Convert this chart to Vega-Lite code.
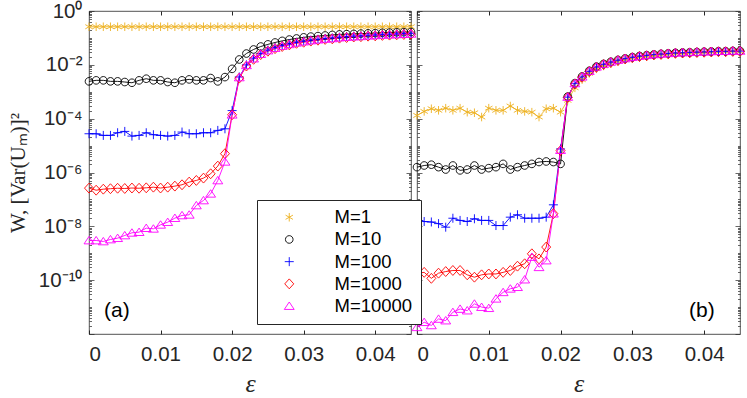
{
"$schema": "https://vega.github.io/schema/vega-lite/v6.json",
"background": "white",
"padding": {"left": 6, "top": 0, "right": 7, "bottom": 4},
"autosize": {"type": "pad"},
"bounds": "flush",
"config": {"view": {"stroke": "#262626", "strokeWidth": 0.8}, "font": "Liberation Sans"},
"spacing": 6,
"resolve": {"scale": {"color": "shared", "shape": "shared"}, "legend": {"color": "shared", "shape": "shared"}},
"data": {"values": [
{"p":"a","M":"M=1","x":0,"y":0.26},{"p":"a","M":"M=1","x":0.001,"y":0.26},{"p":"a","M":"M=1","x":0.002,"y":0.26},{"p":"a","M":"M=1","x":0.003,"y":0.26},{"p":"a","M":"M=1","x":0.004,"y":0.26},{"p":"a","M":"M=1","x":0.005,"y":0.26},{"p":"a","M":"M=1","x":0.006,"y":0.26},{"p":"a","M":"M=1","x":0.007,"y":0.26},{"p":"a","M":"M=1","x":0.008,"y":0.26},{"p":"a","M":"M=1","x":0.009,"y":0.26},
{"p":"a","M":"M=1","x":0.01,"y":0.26},{"p":"a","M":"M=1","x":0.011,"y":0.26},{"p":"a","M":"M=1","x":0.012,"y":0.26},{"p":"a","M":"M=1","x":0.013,"y":0.26},{"p":"a","M":"M=1","x":0.014,"y":0.26},{"p":"a","M":"M=1","x":0.015,"y":0.26},{"p":"a","M":"M=1","x":0.016,"y":0.26},{"p":"a","M":"M=1","x":0.017,"y":0.26},{"p":"a","M":"M=1","x":0.018,"y":0.26},{"p":"a","M":"M=1","x":0.019,"y":0.26},
{"p":"a","M":"M=1","x":0.02,"y":0.26},{"p":"a","M":"M=1","x":0.021,"y":0.26},{"p":"a","M":"M=1","x":0.022,"y":0.26},{"p":"a","M":"M=1","x":0.023,"y":0.26},{"p":"a","M":"M=1","x":0.024,"y":0.26},{"p":"a","M":"M=1","x":0.025,"y":0.26},{"p":"a","M":"M=1","x":0.026,"y":0.26},{"p":"a","M":"M=1","x":0.027,"y":0.26},{"p":"a","M":"M=1","x":0.028,"y":0.26},{"p":"a","M":"M=1","x":0.029,"y":0.26},
{"p":"a","M":"M=1","x":0.03,"y":0.26},{"p":"a","M":"M=1","x":0.031,"y":0.26},{"p":"a","M":"M=1","x":0.032,"y":0.26},{"p":"a","M":"M=1","x":0.033,"y":0.26},{"p":"a","M":"M=1","x":0.034,"y":0.26},{"p":"a","M":"M=1","x":0.035,"y":0.26},{"p":"a","M":"M=1","x":0.036,"y":0.26},{"p":"a","M":"M=1","x":0.037,"y":0.26},{"p":"a","M":"M=1","x":0.038,"y":0.26},{"p":"a","M":"M=1","x":0.039,"y":0.26},
{"p":"a","M":"M=1","x":0.04,"y":0.26},{"p":"a","M":"M=1","x":0.041,"y":0.26},{"p":"a","M":"M=1","x":0.042,"y":0.26},{"p":"a","M":"M=1","x":0.043,"y":0.26},{"p":"a","M":"M=1","x":0.044,"y":0.26},{"p":"a","M":"M=1","x":0.045,"y":0.26},

{"p":"a","M":"M=10","x":0,"y":2.43e-3},{"p":"a","M":"M=10","x":0.001,"y":2.65e-3},{"p":"a","M":"M=10","x":0.002,"y":2.65e-3},{"p":"a","M":"M=10","x":0.003,"y":2.43e-3},{"p":"a","M":"M=10","x":0.004,"y":2.43e-3},{"p":"a","M":"M=10","x":0.005,"y":2.3e-3},{"p":"a","M":"M=10","x":0.006,"y":2.16e-3},{"p":"a","M":"M=10","x":0.007,"y":2.65e-3},{"p":"a","M":"M=10","x":0.008,"y":3.05e-3},{"p":"a","M":"M=10","x":0.009,"y":2.65e-3},
{"p":"a","M":"M=10","x":0.01,"y":2.65e-3},{"p":"a","M":"M=10","x":0.011,"y":2.3e-3},{"p":"a","M":"M=10","x":0.012,"y":2.16e-3},{"p":"a","M":"M=10","x":0.013,"y":2.65e-3},{"p":"a","M":"M=10","x":0.014,"y":2.88e-3},{"p":"a","M":"M=10","x":0.015,"y":2.65e-3},{"p":"a","M":"M=10","x":0.016,"y":2.65e-3},{"p":"a","M":"M=10","x":0.017,"y":3.23e-3},{"p":"a","M":"M=10","x":0.018,"y":2.43e-3},{"p":"a","M":"M=10","x":0.019,"y":3.5e-3},
{"p":"a","M":"M=10","x":0.02,"y":7.1e-3},{"p":"a","M":"M=10","x":0.021,"y":1.58e-2},{"p":"a","M":"M=10","x":0.022,"y":2.63e-2},{"p":"a","M":"M=10","x":0.023,"y":3.72e-2},{"p":"a","M":"M=10","x":0.024,"y":4.79e-2},{"p":"a","M":"M=10","x":0.025,"y":5.75e-2},{"p":"a","M":"M=10","x":0.026,"y":6.76e-2},{"p":"a","M":"M=10","x":0.027,"y":7.76e-2},{"p":"a","M":"M=10","x":0.028,"y":8.71e-2},{"p":"a","M":"M=10","x":0.029,"y":9.55e-2},
{"p":"a","M":"M=10","x":0.03,"y":0.105},{"p":"a","M":"M=10","x":0.031,"y":0.112},{"p":"a","M":"M=10","x":0.032,"y":0.117},{"p":"a","M":"M=10","x":0.033,"y":0.123},{"p":"a","M":"M=10","x":0.034,"y":0.129},{"p":"a","M":"M=10","x":0.035,"y":0.135},{"p":"a","M":"M=10","x":0.036,"y":0.138},{"p":"a","M":"M=10","x":0.037,"y":0.141},{"p":"a","M":"M=10","x":0.038,"y":0.145},{"p":"a","M":"M=10","x":0.039,"y":0.148},
{"p":"a","M":"M=10","x":0.04,"y":0.151},{"p":"a","M":"M=10","x":0.041,"y":0.155},{"p":"a","M":"M=10","x":0.042,"y":0.158},{"p":"a","M":"M=10","x":0.043,"y":0.162},{"p":"a","M":"M=10","x":0.044,"y":0.164},{"p":"a","M":"M=10","x":0.045,"y":0.166},

{"p":"a","M":"M=100","x":0,"y":2.75e-5},{"p":"a","M":"M=100","x":0.001,"y":2.75e-5},{"p":"a","M":"M=100","x":0.002,"y":2.39e-5},{"p":"a","M":"M=100","x":0.003,"y":2.39e-5},{"p":"a","M":"M=100","x":0.004,"y":3.0e-5},{"p":"a","M":"M=100","x":0.005,"y":3.36e-5},{"p":"a","M":"M=100","x":0.006,"y":2.25e-5},{"p":"a","M":"M=100","x":0.007,"y":2.39e-5},{"p":"a","M":"M=100","x":0.008,"y":3.0e-5},{"p":"a","M":"M=100","x":0.009,"y":2.53e-5},
{"p":"a","M":"M=100","x":0.01,"y":2.39e-5},{"p":"a","M":"M=100","x":0.011,"y":2.25e-5},{"p":"a","M":"M=100","x":0.012,"y":2.39e-5},{"p":"a","M":"M=100","x":0.013,"y":3.18e-5},{"p":"a","M":"M=100","x":0.014,"y":2.75e-5},{"p":"a","M":"M=100","x":0.015,"y":2.75e-5},{"p":"a","M":"M=100","x":0.016,"y":3.0e-5},{"p":"a","M":"M=100","x":0.017,"y":3.0e-5},{"p":"a","M":"M=100","x":0.018,"y":3.66e-5},{"p":"a","M":"M=100","x":0.019,"y":4.2e-5},
{"p":"a","M":"M=100","x":0.02,"y":2.0e-4},{"p":"a","M":"M=100","x":0.021,"y":3.55e-3},{"p":"a","M":"M=100","x":0.022,"y":1.0e-2},{"p":"a","M":"M=100","x":0.023,"y":1.78e-2},{"p":"a","M":"M=100","x":0.024,"y":2.63e-2},{"p":"a","M":"M=100","x":0.025,"y":3.55e-2},{"p":"a","M":"M=100","x":0.026,"y":4.37e-2},{"p":"a","M":"M=100","x":0.027,"y":5.25e-2},{"p":"a","M":"M=100","x":0.028,"y":6.03e-2},{"p":"a","M":"M=100","x":0.029,"y":6.92e-2},
{"p":"a","M":"M=100","x":0.03,"y":7.59e-2},{"p":"a","M":"M=100","x":0.031,"y":8.32e-2},{"p":"a","M":"M=100","x":0.032,"y":8.91e-2},{"p":"a","M":"M=100","x":0.033,"y":9.55e-2},{"p":"a","M":"M=100","x":0.034,"y":0.1},{"p":"a","M":"M=100","x":0.035,"y":0.107},{"p":"a","M":"M=100","x":0.036,"y":0.112},{"p":"a","M":"M=100","x":0.037,"y":0.117},{"p":"a","M":"M=100","x":0.038,"y":0.12},{"p":"a","M":"M=100","x":0.039,"y":0.126},
{"p":"a","M":"M=100","x":0.04,"y":0.129},{"p":"a","M":"M=100","x":0.041,"y":0.135},{"p":"a","M":"M=100","x":0.042,"y":0.138},{"p":"a","M":"M=100","x":0.043,"y":0.141},{"p":"a","M":"M=100","x":0.044,"y":0.145},{"p":"a","M":"M=100","x":0.045,"y":0.148},

{"p":"a","M":"M=1000","x":0,"y":2.63e-7},{"p":"a","M":"M=1000","x":0.001,"y":2.2e-7},{"p":"a","M":"M=1000","x":0.002,"y":2.4e-7},{"p":"a","M":"M=1000","x":0.003,"y":2.5e-7},{"p":"a","M":"M=1000","x":0.004,"y":2.6e-7},{"p":"a","M":"M=1000","x":0.005,"y":2.55e-7},{"p":"a","M":"M=1000","x":0.006,"y":2.65e-7},{"p":"a","M":"M=1000","x":0.007,"y":2.6e-7},{"p":"a","M":"M=1000","x":0.008,"y":2.7e-7},{"p":"a","M":"M=1000","x":0.009,"y":2.85e-7},
{"p":"a","M":"M=1000","x":0.01,"y":2.65e-7},{"p":"a","M":"M=1000","x":0.011,"y":2.85e-7},{"p":"a","M":"M=1000","x":0.012,"y":3.12e-7},{"p":"a","M":"M=1000","x":0.013,"y":3.5e-7},{"p":"a","M":"M=1000","x":0.014,"y":4.4e-7},{"p":"a","M":"M=1000","x":0.015,"y":5.07e-7},{"p":"a","M":"M=1000","x":0.016,"y":6.19e-7},{"p":"a","M":"M=1000","x":0.017,"y":8.97e-7},{"p":"a","M":"M=1000","x":0.018,"y":1.73e-6},{"p":"a","M":"M=1000","x":0.019,"y":5.0e-6},
{"p":"a","M":"M=1000","x":0.02,"y":1.4e-4},{"p":"a","M":"M=1000","x":0.021,"y":3.2e-3},{"p":"a","M":"M=1000","x":0.022,"y":9.0e-3},{"p":"a","M":"M=1000","x":0.023,"y":1.6e-2},{"p":"a","M":"M=1000","x":0.024,"y":2.4e-2},{"p":"a","M":"M=1000","x":0.025,"y":3.2e-2},{"p":"a","M":"M=1000","x":0.026,"y":4.0e-2},{"p":"a","M":"M=1000","x":0.027,"y":4.8e-2},{"p":"a","M":"M=1000","x":0.028,"y":5.5e-2},{"p":"a","M":"M=1000","x":0.029,"y":6.3e-2},
{"p":"a","M":"M=1000","x":0.03,"y":6.9e-2},{"p":"a","M":"M=1000","x":0.031,"y":7.6e-2},{"p":"a","M":"M=1000","x":0.032,"y":8.2e-2},{"p":"a","M":"M=1000","x":0.033,"y":8.8e-2},{"p":"a","M":"M=1000","x":0.034,"y":9.2e-2},{"p":"a","M":"M=1000","x":0.035,"y":9.8e-2},{"p":"a","M":"M=1000","x":0.036,"y":0.103},{"p":"a","M":"M=1000","x":0.037,"y":0.108},{"p":"a","M":"M=1000","x":0.038,"y":0.111},{"p":"a","M":"M=1000","x":0.039,"y":0.116},
{"p":"a","M":"M=1000","x":0.04,"y":0.119},{"p":"a","M":"M=1000","x":0.041,"y":0.124},{"p":"a","M":"M=1000","x":0.042,"y":0.127},{"p":"a","M":"M=1000","x":0.043,"y":0.13},{"p":"a","M":"M=1000","x":0.044,"y":0.134},{"p":"a","M":"M=1000","x":0.045,"y":0.137},

{"p":"a","M":"M=10000","x":0,"y":2.98e-9},{"p":"a","M":"M=10000","x":0.001,"y":2.98e-9},{"p":"a","M":"M=10000","x":0.002,"y":2.74e-9},{"p":"a","M":"M=10000","x":0.003,"y":3.25e-9},{"p":"a","M":"M=10000","x":0.004,"y":3.64e-9},{"p":"a","M":"M=10000","x":0.005,"y":4.58e-9},{"p":"a","M":"M=10000","x":0.006,"y":5.75e-9},{"p":"a","M":"M=10000","x":0.007,"y":6.09e-9},{"p":"a","M":"M=10000","x":0.008,"y":8.57e-9},{"p":"a","M":"M=10000","x":0.009,"y":8.09e-9},
{"p":"a","M":"M=10000","x":0.01,"y":1.14e-8},{"p":"a","M":"M=10000","x":0.011,"y":1.43e-8},{"p":"a","M":"M=10000","x":0.012,"y":2.02e-8},{"p":"a","M":"M=10000","x":0.013,"y":2.54e-8},{"p":"a","M":"M=10000","x":0.014,"y":2.68e-8},{"p":"a","M":"M=10000","x":0.015,"y":5.97e-8},{"p":"a","M":"M=10000","x":0.016,"y":9.16e-8},{"p":"a","M":"M=10000","x":0.017,"y":1.62e-7},{"p":"a","M":"M=10000","x":0.018,"y":5.07e-7},{"p":"a","M":"M=10000","x":0.019,"y":2.5e-6},
{"p":"a","M":"M=10000","x":0.02,"y":1.4e-4},{"p":"a","M":"M=10000","x":0.021,"y":3.4e-3},{"p":"a","M":"M=10000","x":0.022,"y":9.6e-3},{"p":"a","M":"M=10000","x":0.023,"y":1.7e-2},{"p":"a","M":"M=10000","x":0.024,"y":2.5e-2},{"p":"a","M":"M=10000","x":0.025,"y":3.4e-2},{"p":"a","M":"M=10000","x":0.026,"y":4.2e-2},{"p":"a","M":"M=10000","x":0.027,"y":5.0e-2},{"p":"a","M":"M=10000","x":0.028,"y":5.8e-2},{"p":"a","M":"M=10000","x":0.029,"y":6.6e-2},
{"p":"a","M":"M=10000","x":0.03,"y":7.3e-2},{"p":"a","M":"M=10000","x":0.031,"y":8.0e-2},{"p":"a","M":"M=10000","x":0.032,"y":8.6e-2},{"p":"a","M":"M=10000","x":0.033,"y":9.2e-2},{"p":"a","M":"M=10000","x":0.034,"y":9.6e-2},{"p":"a","M":"M=10000","x":0.035,"y":0.103},{"p":"a","M":"M=10000","x":0.036,"y":0.108},{"p":"a","M":"M=10000","x":0.037,"y":0.112},{"p":"a","M":"M=10000","x":0.038,"y":0.115},{"p":"a","M":"M=10000","x":0.039,"y":0.121},
{"p":"a","M":"M=10000","x":0.04,"y":0.124},{"p":"a","M":"M=10000","x":0.041,"y":0.13},{"p":"a","M":"M=10000","x":0.042,"y":0.132},{"p":"a","M":"M=10000","x":0.043,"y":0.135},{"p":"a","M":"M=10000","x":0.044,"y":0.139},{"p":"a","M":"M=10000","x":0.045,"y":0.142},

{"p":"b","M":"M=1","x":0,"y":1.32e-4},{"p":"b","M":"M=1","x":0.001,"y":1.86e-4},{"p":"b","M":"M=1","x":0.002,"y":2.34e-4},{"p":"b","M":"M=1","x":0.003,"y":2.04e-4},{"p":"b","M":"M=1","x":0.004,"y":2.45e-4},{"p":"b","M":"M=1","x":0.005,"y":2.04e-4},{"p":"b","M":"M=1","x":0.006,"y":2.45e-4},{"p":"b","M":"M=1","x":0.007,"y":1.74e-4},{"p":"b","M":"M=1","x":0.008,"y":1.66e-4},{"p":"b","M":"M=1","x":0.009,"y":1.15e-4},
{"p":"b","M":"M=1","x":0.01,"y":2.45e-4},{"p":"b","M":"M=1","x":0.011,"y":2.04e-4},{"p":"b","M":"M=1","x":0.012,"y":2.04e-4},{"p":"b","M":"M=1","x":0.013,"y":2.95e-4},{"p":"b","M":"M=1","x":0.014,"y":2.04e-4},{"p":"b","M":"M=1","x":0.015,"y":1.86e-4},{"p":"b","M":"M=1","x":0.016,"y":1.74e-4},{"p":"b","M":"M=1","x":0.017,"y":1.15e-4},{"p":"b","M":"M=1","x":0.018,"y":2.34e-4},{"p":"b","M":"M=1","x":0.019,"y":2.45e-4},
{"p":"b","M":"M=1","x":0.02,"y":1.74e-4},{"p":"b","M":"M=1","x":0.021,"y":4.8e-4},{"p":"b","M":"M=1","x":0.022,"y":1.4e-3},{"p":"b","M":"M=1","x":0.023,"y":2.8e-3},{"p":"b","M":"M=1","x":0.024,"y":4.8e-3},{"p":"b","M":"M=1","x":0.025,"y":7.1e-3},{"p":"b","M":"M=1","x":0.026,"y":9.1e-3},{"p":"b","M":"M=1","x":0.027,"y":1.12e-2},{"p":"b","M":"M=1","x":0.028,"y":1.35e-2},{"p":"b","M":"M=1","x":0.029,"y":1.55e-2},
{"p":"b","M":"M=1","x":0.03,"y":1.74e-2},{"p":"b","M":"M=1","x":0.031,"y":1.9e-2},{"p":"b","M":"M=1","x":0.032,"y":2.04e-2},{"p":"b","M":"M=1","x":0.033,"y":2.19e-2},{"p":"b","M":"M=1","x":0.034,"y":2.34e-2},{"p":"b","M":"M=1","x":0.035,"y":2.45e-2},{"p":"b","M":"M=1","x":0.036,"y":2.57e-2},{"p":"b","M":"M=1","x":0.037,"y":2.63e-2},{"p":"b","M":"M=1","x":0.038,"y":2.75e-2},{"p":"b","M":"M=1","x":0.039,"y":2.82e-2},
{"p":"b","M":"M=1","x":0.04,"y":2.88e-2},{"p":"b","M":"M=1","x":0.041,"y":2.95e-2},{"p":"b","M":"M=1","x":0.042,"y":3.02e-2},{"p":"b","M":"M=1","x":0.043,"y":3.09e-2},{"p":"b","M":"M=1","x":0.044,"y":3.16e-2},{"p":"b","M":"M=1","x":0.045,"y":3.16e-2},

{"p":"b","M":"M=10","x":0,"y":1.58e-6},{"p":"b","M":"M=10","x":0.001,"y":1.82e-6},{"p":"b","M":"M=10","x":0.002,"y":1.95e-6},{"p":"b","M":"M=10","x":0.003,"y":1.58e-6},{"p":"b","M":"M=10","x":0.004,"y":1.29e-6},{"p":"b","M":"M=10","x":0.005,"y":1.82e-6},{"p":"b","M":"M=10","x":0.006,"y":1.2e-6},{"p":"b","M":"M=10","x":0.007,"y":1.29e-6},{"p":"b","M":"M=10","x":0.008,"y":1.82e-6},{"p":"b","M":"M=10","x":0.009,"y":1.29e-6},
{"p":"b","M":"M=10","x":0.01,"y":1.45e-6},{"p":"b","M":"M=10","x":0.011,"y":1.58e-6},{"p":"b","M":"M=10","x":0.012,"y":2.09e-6},{"p":"b","M":"M=10","x":0.013,"y":1.29e-6},{"p":"b","M":"M=10","x":0.014,"y":1.58e-6},{"p":"b","M":"M=10","x":0.015,"y":1.82e-6},{"p":"b","M":"M=10","x":0.016,"y":2.09e-6},{"p":"b","M":"M=10","x":0.017,"y":2.45e-6},{"p":"b","M":"M=10","x":0.018,"y":2.57e-6},{"p":"b","M":"M=10","x":0.019,"y":2.45e-6},
{"p":"b","M":"M=10","x":0.02,"y":2.09e-6},{"p":"b","M":"M=10","x":0.021,"y":6.6e-4},{"p":"b","M":"M=10","x":0.022,"y":2.1e-3},{"p":"b","M":"M=10","x":0.023,"y":3.7e-3},{"p":"b","M":"M=10","x":0.024,"y":6.0e-3},{"p":"b","M":"M=10","x":0.025,"y":8.6e-3},{"p":"b","M":"M=10","x":0.026,"y":1.08e-2},{"p":"b","M":"M=10","x":0.027,"y":1.3e-2},{"p":"b","M":"M=10","x":0.028,"y":1.52e-2},{"p":"b","M":"M=10","x":0.029,"y":1.74e-2},
{"p":"b","M":"M=10","x":0.03,"y":1.94e-2},{"p":"b","M":"M=10","x":0.031,"y":2.13e-2},{"p":"b","M":"M=10","x":0.032,"y":2.28e-2},{"p":"b","M":"M=10","x":0.033,"y":2.44e-2},{"p":"b","M":"M=10","x":0.034,"y":2.55e-2},{"p":"b","M":"M=10","x":0.035,"y":2.67e-2},{"p":"b","M":"M=10","x":0.036,"y":2.79e-2},{"p":"b","M":"M=10","x":0.037,"y":2.86e-2},{"p":"b","M":"M=10","x":0.038,"y":2.92e-2},{"p":"b","M":"M=10","x":0.039,"y":2.99e-2},
{"p":"b","M":"M=10","x":0.04,"y":3.06e-2},{"p":"b","M":"M=10","x":0.041,"y":3.13e-2},{"p":"b","M":"M=10","x":0.042,"y":3.2e-2},{"p":"b","M":"M=10","x":0.043,"y":3.2e-2},{"p":"b","M":"M=10","x":0.044,"y":3.28e-2},{"p":"b","M":"M=10","x":0.045,"y":3.28e-2},

{"p":"b","M":"M=100","x":0,"y":2.19e-8},{"p":"b","M":"M=100","x":0.001,"y":1.51e-8},{"p":"b","M":"M=100","x":0.002,"y":1.45e-8},{"p":"b","M":"M=100","x":0.003,"y":1.26e-8},{"p":"b","M":"M=100","x":0.004,"y":9.3e-9},{"p":"b","M":"M=100","x":0.005,"y":2.0e-8},{"p":"b","M":"M=100","x":0.006,"y":1.66e-8},{"p":"b","M":"M=100","x":0.007,"y":1.51e-8},{"p":"b","M":"M=100","x":0.008,"y":1.91e-8},{"p":"b","M":"M=100","x":0.009,"y":1.66e-8},
{"p":"b","M":"M=100","x":0.01,"y":1.66e-8},{"p":"b","M":"M=100","x":0.011,"y":1.07e-8},{"p":"b","M":"M=100","x":0.012,"y":1.07e-8},{"p":"b","M":"M=100","x":0.013,"y":2.19e-8},{"p":"b","M":"M=100","x":0.014,"y":2.69e-8},{"p":"b","M":"M=100","x":0.015,"y":2.0e-8},{"p":"b","M":"M=100","x":0.016,"y":2.0e-8},{"p":"b","M":"M=100","x":0.017,"y":2.0e-8},{"p":"b","M":"M=100","x":0.018,"y":2.19e-8},{"p":"b","M":"M=100","x":0.019,"y":6.3e-8},
{"p":"b","M":"M=100","x":0.02,"y":7.5e-6},{"p":"b","M":"M=100","x":0.021,"y":6.3e-4},{"p":"b","M":"M=100","x":0.022,"y":2.0e-3},{"p":"b","M":"M=100","x":0.023,"y":3.55e-3},{"p":"b","M":"M=100","x":0.024,"y":5.75e-3},{"p":"b","M":"M=100","x":0.025,"y":8.3e-3},{"p":"b","M":"M=100","x":0.026,"y":1.05e-2},{"p":"b","M":"M=100","x":0.027,"y":1.26e-2},{"p":"b","M":"M=100","x":0.028,"y":1.48e-2},{"p":"b","M":"M=100","x":0.029,"y":1.7e-2},
{"p":"b","M":"M=100","x":0.03,"y":1.9e-2},{"p":"b","M":"M=100","x":0.031,"y":2.09e-2},{"p":"b","M":"M=100","x":0.032,"y":2.24e-2},{"p":"b","M":"M=100","x":0.033,"y":2.4e-2},{"p":"b","M":"M=100","x":0.034,"y":2.51e-2},{"p":"b","M":"M=100","x":0.035,"y":2.63e-2},{"p":"b","M":"M=100","x":0.036,"y":2.75e-2},{"p":"b","M":"M=100","x":0.037,"y":2.82e-2},{"p":"b","M":"M=100","x":0.038,"y":2.88e-2},{"p":"b","M":"M=100","x":0.039,"y":2.95e-2},
{"p":"b","M":"M=100","x":0.04,"y":3.02e-2},{"p":"b","M":"M=100","x":0.041,"y":3.09e-2},{"p":"b","M":"M=100","x":0.042,"y":3.16e-2},{"p":"b","M":"M=100","x":0.043,"y":3.16e-2},{"p":"b","M":"M=100","x":0.044,"y":3.24e-2},{"p":"b","M":"M=100","x":0.045,"y":3.24e-2},

{"p":"b","M":"M=1000","x":0,"y":1.82e-10},{"p":"b","M":"M=1000","x":0.001,"y":1.95e-10},{"p":"b","M":"M=1000","x":0.002,"y":1.17e-10},{"p":"b","M":"M=1000","x":0.003,"y":1.82e-10},{"p":"b","M":"M=1000","x":0.004,"y":2.09e-10},{"p":"b","M":"M=1000","x":0.005,"y":2.29e-10},{"p":"b","M":"M=1000","x":0.006,"y":2.29e-10},{"p":"b","M":"M=1000","x":0.007,"y":1.58e-10},{"p":"b","M":"M=1000","x":0.008,"y":1.29e-10},{"p":"b","M":"M=1000","x":0.009,"y":1.58e-10},
{"p":"b","M":"M=1000","x":0.01,"y":1.7e-10},{"p":"b","M":"M=1000","x":0.011,"y":1.7e-10},{"p":"b","M":"M=1000","x":0.012,"y":1.95e-10},{"p":"b","M":"M=1000","x":0.013,"y":2.29e-10},{"p":"b","M":"M=1000","x":0.014,"y":3.31e-10},{"p":"b","M":"M=1000","x":0.015,"y":4.07e-10},{"p":"b","M":"M=1000","x":0.016,"y":9.55e-10},{"p":"b","M":"M=1000","x":0.017,"y":6.17e-10},{"p":"b","M":"M=1000","x":0.018,"y":1.7e-9},{"p":"b","M":"M=1000","x":0.019,"y":2.95e-8},
{"p":"b","M":"M=1000","x":0.02,"y":6.5e-6},{"p":"b","M":"M=1000","x":0.021,"y":6.1e-4},{"p":"b","M":"M=1000","x":0.022,"y":1.94e-3},{"p":"b","M":"M=1000","x":0.023,"y":3.44e-3},{"p":"b","M":"M=1000","x":0.024,"y":5.58e-3},{"p":"b","M":"M=1000","x":0.025,"y":8.05e-3},{"p":"b","M":"M=1000","x":0.026,"y":1.02e-2},{"p":"b","M":"M=1000","x":0.027,"y":1.22e-2},{"p":"b","M":"M=1000","x":0.028,"y":1.44e-2},{"p":"b","M":"M=1000","x":0.029,"y":1.65e-2},
{"p":"b","M":"M=1000","x":0.03,"y":1.84e-2},{"p":"b","M":"M=1000","x":0.031,"y":2.03e-2},{"p":"b","M":"M=1000","x":0.032,"y":2.17e-2},{"p":"b","M":"M=1000","x":0.033,"y":2.33e-2},{"p":"b","M":"M=1000","x":0.034,"y":2.43e-2},{"p":"b","M":"M=1000","x":0.035,"y":2.55e-2},{"p":"b","M":"M=1000","x":0.036,"y":2.67e-2},{"p":"b","M":"M=1000","x":0.037,"y":2.74e-2},{"p":"b","M":"M=1000","x":0.038,"y":2.79e-2},{"p":"b","M":"M=1000","x":0.039,"y":2.86e-2},
{"p":"b","M":"M=1000","x":0.04,"y":2.93e-2},{"p":"b","M":"M=1000","x":0.041,"y":3.0e-2},{"p":"b","M":"M=1000","x":0.042,"y":3.07e-2},{"p":"b","M":"M=1000","x":0.043,"y":3.07e-2},{"p":"b","M":"M=1000","x":0.044,"y":3.14e-2},{"p":"b","M":"M=1000","x":0.045,"y":3.14e-2},

{"p":"b","M":"M=10000","x":0,"y":1.78e-12},{"p":"b","M":"M=10000","x":0.001,"y":2.75e-12},{"p":"b","M":"M=10000","x":0.002,"y":2.09e-12},{"p":"b","M":"M=10000","x":0.003,"y":3.63e-12},{"p":"b","M":"M=10000","x":0.004,"y":3.16e-12},{"p":"b","M":"M=10000","x":0.005,"y":6.46e-12},{"p":"b","M":"M=10000","x":0.006,"y":8.51e-12},{"p":"b","M":"M=10000","x":0.007,"y":7.41e-12},{"p":"b","M":"M=10000","x":0.008,"y":1.32e-11},{"p":"b","M":"M=10000","x":0.009,"y":1.0e-11},
{"p":"b","M":"M=10000","x":0.01,"y":9.12e-12},{"p":"b","M":"M=10000","x":0.011,"y":2.04e-11},{"p":"b","M":"M=10000","x":0.012,"y":3.55e-11},{"p":"b","M":"M=10000","x":0.013,"y":4.79e-11},{"p":"b","M":"M=10000","x":0.014,"y":5.5e-11},{"p":"b","M":"M=10000","x":0.015,"y":1.05e-10},{"p":"b","M":"M=10000","x":0.016,"y":7.24e-10},{"p":"b","M":"M=10000","x":0.017,"y":3.02e-10},{"p":"b","M":"M=10000","x":0.018,"y":5.37e-10},{"p":"b","M":"M=10000","x":0.019,"y":2.95e-8},
{"p":"b","M":"M=10000","x":0.02,"y":6.8e-6},{"p":"b","M":"M=10000","x":0.021,"y":6.4e-4},{"p":"b","M":"M=10000","x":0.022,"y":2.04e-3},{"p":"b","M":"M=10000","x":0.023,"y":3.62e-3},{"p":"b","M":"M=10000","x":0.024,"y":5.87e-3},{"p":"b","M":"M=10000","x":0.025,"y":8.47e-3},{"p":"b","M":"M=10000","x":0.026,"y":1.07e-2},{"p":"b","M":"M=10000","x":0.027,"y":1.29e-2},{"p":"b","M":"M=10000","x":0.028,"y":1.51e-2},{"p":"b","M":"M=10000","x":0.029,"y":1.73e-2},
{"p":"b","M":"M=10000","x":0.03,"y":1.94e-2},{"p":"b","M":"M=10000","x":0.031,"y":2.13e-2},{"p":"b","M":"M=10000","x":0.032,"y":2.28e-2},{"p":"b","M":"M=10000","x":0.033,"y":2.45e-2},{"p":"b","M":"M=10000","x":0.034,"y":2.56e-2},{"p":"b","M":"M=10000","x":0.035,"y":2.68e-2},{"p":"b","M":"M=10000","x":0.036,"y":2.8e-2},{"p":"b","M":"M=10000","x":0.037,"y":2.88e-2},{"p":"b","M":"M=10000","x":0.038,"y":2.94e-2},{"p":"b","M":"M=10000","x":0.039,"y":3.01e-2},
{"p":"b","M":"M=10000","x":0.04,"y":3.08e-2},{"p":"b","M":"M=10000","x":0.041,"y":3.15e-2},{"p":"b","M":"M=10000","x":0.042,"y":3.22e-2},{"p":"b","M":"M=10000","x":0.043,"y":3.22e-2},{"p":"b","M":"M=10000","x":0.044,"y":3.3e-2},{"p":"b","M":"M=10000","x":0.045,"y":3.3e-2}
]},
"hconcat": [
{
 "width": 322, "height": 323,
 "resolve": {"axis": {"x": "independent", "y": "independent"}},
 "layer": [
  {"transform": [{"filter": "datum.p === 'a'"}],
   "mark": {"type": "line", "strokeWidth": 0.9},
   "encoding": {
    "x": {"field": "x", "type": "quantitative", "scale": {"domain": [0, 0.045], "nice": false, "zero": false},
      "axis": {"orient": "bottom", "values": [0, 0.01, 0.02, 0.03, 0.04], "labelExpr": "datum.value == 0 ? '0' : format(datum.value, '.2f')", "tickSize": -4, "tickColor": "#262626", "domain": false, "grid": false, "labelFont": "Liberation Sans", "labelFontSize": 20.5, "labelColor": "#262626", "labelPadding": 14, "title": "ε", "titleFont": "Liberation Serif", "titleFontStyle": "italic", "titleFontWeight": "normal", "titleFontSize": 26, "titleColor": "#262626", "titlePadding": 6}},
    "y": {"field": "y", "type": "quantitative", "scale": {"type": "log", "domain": [1e-12, 1], "nice": false},
      "axis": {"orient": "left", "values": [1e-12,2e-12,3e-12,4e-12,5e-12,6e-12,7e-12,8e-12,9e-12,1e-11,2e-11,3e-11,4e-11,5e-11,6e-11,7e-11,8e-11,9e-11,1e-10,2e-10,3e-10,4e-10,5e-10,6e-10,7e-10,8e-10,9e-10,1e-9,2e-9,3e-9,4e-9,5e-9,6e-9,7e-9,8e-9,9e-9,1e-8,2e-8,3e-8,4e-8,5e-8,6e-8,7e-8,8e-8,9e-8,1e-7,2e-7,3e-7,4e-7,5e-7,6e-7,7e-7,8e-7,9e-7,1e-6,2e-6,3e-6,4e-6,5e-6,6e-6,7e-6,8e-6,9e-6,1e-5,2e-5,3e-5,4e-5,5e-5,6e-5,7e-5,8e-5,9e-5,1e-4,2e-4,3e-4,4e-4,5e-4,6e-4,7e-4,8e-4,9e-4,1e-3,2e-3,3e-3,4e-3,5e-3,6e-3,7e-3,8e-3,9e-3,1e-2,2e-2,3e-2,4e-2,5e-2,6e-2,7e-2,8e-2,9e-2,0.1,0.2,0.3,0.4,0.5,0.6,0.7,0.8,0.9,1],
        "labelExpr": "abs(log(datum.value)/LN10 - round(log(datum.value)/LN10)) > 0.01 ? '' : round(log(datum.value)/LN10) == 0 ? '10⁰' : round(log(datum.value)/LN10) == -2 ? '10⁻²' : round(log(datum.value)/LN10) == -4 ? '10⁻⁴' : round(log(datum.value)/LN10) == -6 ? '10⁻⁶' : round(log(datum.value)/LN10) == -8 ? '10⁻⁸' : round(log(datum.value)/LN10) == -10 ? '10⁻¹⁰' : ''",
        "labelOverlap": false, "labelFlush": false,
        "tickSize": {"condition": {"test": "abs(log(datum.value)/LN10 - round(log(datum.value)/LN10)) < 0.01 && round(log(datum.value)/LN10) % 2 == 0", "value": -5}, "value": -2.5},
        "tickColor": "#262626", "tickWidth": 0.7, "domain": false, "grid": false,
        "labelFont": "Liberation Sans", "labelFontSize": 20.5, "labelColor": "#262626", "labelPadding": 12,
        "title": "W, [Var(Uₘ)]²", "titleFont": "Liberation Serif", "titleFontSize": 21, "titleFontWeight": "normal", "titleColor": "#262626", "titlePadding": 10}},
    "color": {"field": "M", "type": "nominal", "scale": {"domain": ["M=1", "M=10", "M=100", "M=1000", "M=10000"], "range": ["#EDB120", "#000000", "#0000FF", "#FF0000", "#FF00FF"]},
      "legend": {"title": null, "orient": "none", "legendX": 168, "legendY": 189, "labelFont": "Liberation Sans", "labelFontSize": 18.5, "labelColor": "#000000", "symbolSize": 81, "symbolStrokeWidth": 0.9, "symbolOffset": 15, "labelOffset": 36, "padding": 8, "rowPadding": 3.2, "strokeColor": "#262626", "fillColor": "white"}}
   }},
  {"transform": [{"filter": "datum.p === 'a'"}],
   "mark": {"type": "point", "filled": false, "strokeWidth": 0.9, "size": 81, "opacity": 1},
   "encoding": {
    "x": {"field": "x", "type": "quantitative", "axis": {"orient": "top", "values": [0, 0.01, 0.02, 0.03, 0.04], "labels": false, "title": null, "tickSize": -4, "tickColor": "#262626", "domain": false, "grid": false, "minExtent": 0}},
    "y": {"field": "y", "type": "quantitative", "axis": {"orient": "right", "values": [1e-12,2e-12,3e-12,4e-12,5e-12,6e-12,7e-12,8e-12,9e-12,1e-11,2e-11,3e-11,4e-11,5e-11,6e-11,7e-11,8e-11,9e-11,1e-10,2e-10,3e-10,4e-10,5e-10,6e-10,7e-10,8e-10,9e-10,1e-9,2e-9,3e-9,4e-9,5e-9,6e-9,7e-9,8e-9,9e-9,1e-8,2e-8,3e-8,4e-8,5e-8,6e-8,7e-8,8e-8,9e-8,1e-7,2e-7,3e-7,4e-7,5e-7,6e-7,7e-7,8e-7,9e-7,1e-6,2e-6,3e-6,4e-6,5e-6,6e-6,7e-6,8e-6,9e-6,1e-5,2e-5,3e-5,4e-5,5e-5,6e-5,7e-5,8e-5,9e-5,1e-4,2e-4,3e-4,4e-4,5e-4,6e-4,7e-4,8e-4,9e-4,1e-3,2e-3,3e-3,4e-3,5e-3,6e-3,7e-3,8e-3,9e-3,1e-2,2e-2,3e-2,4e-2,5e-2,6e-2,7e-2,8e-2,9e-2,0.1,0.2,0.3,0.4,0.5,0.6,0.7,0.8,0.9,1], "labels": false, "title": null,
      "tickSize": {"condition": {"test": "abs(log(datum.value)/LN10 - round(log(datum.value)/LN10)) < 0.01 && round(log(datum.value)/LN10) % 2 == 0", "value": -5}, "value": -2.5}, "tickColor": "#262626", "tickWidth": 0.7, "domain": false, "grid": false, "minExtent": 0}},
    "color": {"field": "M", "type": "nominal"},
    "shape": {"field": "M", "type": "nominal", "scale": {"domain": ["M=1", "M=10", "M=100", "M=1000", "M=10000"], "range": ["M0,-0.95L0,0.95M-0.82,-0.47L0.82,0.47M-0.82,0.47L0.82,-0.47", "M0.85,0A0.85,0.85,0,1,1,-0.85,0A0.85,0.85,0,1,1,0.85,0Z", "M-1,0L1,0M0,-1L0,1", "M0,-1.1L1,0L0,1.1L-1,0Z", "M0,-0.9L1.1,0.75L-1.1,0.75Z"]}}
   }},
  {"data": {"values": [{"t": "(a)"}]},
   "mark": {"type": "text", "align": "left", "baseline": "middle", "fontSize": 21, "font": "Liberation Sans", "color": "#000000"},
   "encoding": {"x": {"datum": 0.0021, "type": "quantitative", "axis": null}, "y": {"datum": 7e-12, "type": "quantitative", "axis": null}, "text": {"field": "t"}}}
 ]
},
{
 "width": 323, "height": 323,
 "resolve": {"axis": {"x": "independent", "y": "independent"}},
 "layer": [
  {"transform": [{"filter": "datum.p === 'b'"}],
   "mark": {"type": "line", "strokeWidth": 0.9},
   "encoding": {
    "x": {"field": "x", "type": "quantitative", "scale": {"domain": [0, 0.045], "nice": false, "zero": false},
      "axis": {"orient": "bottom", "values": [0, 0.01, 0.02, 0.03, 0.04], "labelExpr": "datum.value == 0 ? '0' : format(datum.value, '.2f')", "tickSize": -4, "tickColor": "#262626", "domain": false, "grid": false, "labelFont": "Liberation Sans", "labelFontSize": 20.5, "labelColor": "#262626", "labelPadding": 14, "title": "ε", "titleFont": "Liberation Serif", "titleFontStyle": "italic", "titleFontWeight": "normal", "titleFontSize": 26, "titleColor": "#262626", "titlePadding": 6}},
    "y": {"field": "y", "type": "quantitative", "scale": {"type": "log", "domain": [1e-12, 1], "nice": false},
      "axis": {"orient": "left", "values": [1e-12,2e-12,3e-12,4e-12,5e-12,6e-12,7e-12,8e-12,9e-12,1e-11,2e-11,3e-11,4e-11,5e-11,6e-11,7e-11,8e-11,9e-11,1e-10,2e-10,3e-10,4e-10,5e-10,6e-10,7e-10,8e-10,9e-10,1e-9,2e-9,3e-9,4e-9,5e-9,6e-9,7e-9,8e-9,9e-9,1e-8,2e-8,3e-8,4e-8,5e-8,6e-8,7e-8,8e-8,9e-8,1e-7,2e-7,3e-7,4e-7,5e-7,6e-7,7e-7,8e-7,9e-7,1e-6,2e-6,3e-6,4e-6,5e-6,6e-6,7e-6,8e-6,9e-6,1e-5,2e-5,3e-5,4e-5,5e-5,6e-5,7e-5,8e-5,9e-5,1e-4,2e-4,3e-4,4e-4,5e-4,6e-4,7e-4,8e-4,9e-4,1e-3,2e-3,3e-3,4e-3,5e-3,6e-3,7e-3,8e-3,9e-3,1e-2,2e-2,3e-2,4e-2,5e-2,6e-2,7e-2,8e-2,9e-2,0.1,0.2,0.3,0.4,0.5,0.6,0.7,0.8,0.9,1], "labels": false, "title": null,
        "tickSize": {"condition": {"test": "abs(log(datum.value)/LN10 - round(log(datum.value)/LN10)) < 0.01 && round(log(datum.value)/LN10) % 2 == 0", "value": -5}, "value": -2.5}, "tickColor": "#262626", "tickWidth": 0.7, "domain": false, "grid": false, "minExtent": 0}},
    "color": {"field": "M", "type": "nominal"}
   }},
  {"transform": [{"filter": "datum.p === 'b'"}],
   "mark": {"type": "point", "filled": false, "strokeWidth": 0.9, "size": 81, "opacity": 1},
   "encoding": {
    "x": {"field": "x", "type": "quantitative", "axis": {"orient": "top", "values": [0, 0.01, 0.02, 0.03, 0.04], "labels": false, "title": null, "tickSize": -4, "tickColor": "#262626", "domain": false, "grid": false, "minExtent": 0}},
    "y": {"field": "y", "type": "quantitative", "axis": {"orient": "right", "values": [1e-12,2e-12,3e-12,4e-12,5e-12,6e-12,7e-12,8e-12,9e-12,1e-11,2e-11,3e-11,4e-11,5e-11,6e-11,7e-11,8e-11,9e-11,1e-10,2e-10,3e-10,4e-10,5e-10,6e-10,7e-10,8e-10,9e-10,1e-9,2e-9,3e-9,4e-9,5e-9,6e-9,7e-9,8e-9,9e-9,1e-8,2e-8,3e-8,4e-8,5e-8,6e-8,7e-8,8e-8,9e-8,1e-7,2e-7,3e-7,4e-7,5e-7,6e-7,7e-7,8e-7,9e-7,1e-6,2e-6,3e-6,4e-6,5e-6,6e-6,7e-6,8e-6,9e-6,1e-5,2e-5,3e-5,4e-5,5e-5,6e-5,7e-5,8e-5,9e-5,1e-4,2e-4,3e-4,4e-4,5e-4,6e-4,7e-4,8e-4,9e-4,1e-3,2e-3,3e-3,4e-3,5e-3,6e-3,7e-3,8e-3,9e-3,1e-2,2e-2,3e-2,4e-2,5e-2,6e-2,7e-2,8e-2,9e-2,0.1,0.2,0.3,0.4,0.5,0.6,0.7,0.8,0.9,1], "labels": false, "title": null,
      "tickSize": {"condition": {"test": "abs(log(datum.value)/LN10 - round(log(datum.value)/LN10)) < 0.01 && round(log(datum.value)/LN10) % 2 == 0", "value": -5}, "value": -2.5}, "tickColor": "#262626", "tickWidth": 0.7, "domain": false, "grid": false, "minExtent": 0}},
    "color": {"field": "M", "type": "nominal"},
    "shape": {"field": "M", "type": "nominal"}
   }},
  {"data": {"values": [{"t": "(b)"}]},
   "mark": {"type": "text", "align": "left", "baseline": "middle", "fontSize": 21, "font": "Liberation Sans", "color": "#000000"},
   "encoding": {"x": {"datum": 0.0379, "type": "quantitative", "axis": null}, "y": {"datum": 7e-12, "type": "quantitative", "axis": null}, "text": {"field": "t"}}}
 ]
}
]
}
